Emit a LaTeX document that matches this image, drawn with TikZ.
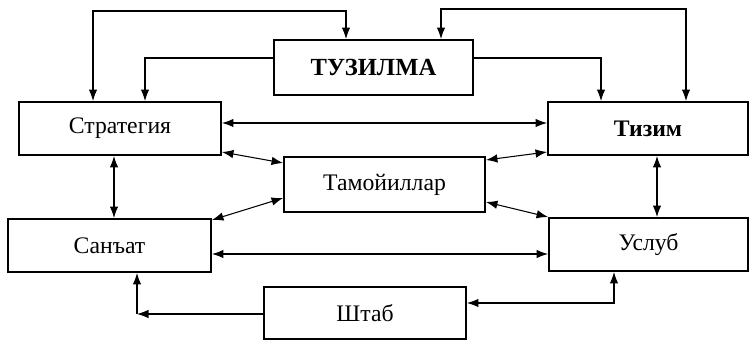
\documentclass[tikz,border=0pt]{standalone}
\usepackage{fontspec}
\setmainfont{Liberation Serif}
\usetikzlibrary{arrows.meta}
\tikzset{
  box/.style={draw, line width=1.1pt, inner sep=0pt, font=\fontsize{13.5}{16}\selectfont},
  bbox/.style={box, font=\fontsize{14}{16}\selectfont\bfseries},
  conn/.style={line width=0.6pt, {Latex[length=2.3mm,width=1.7mm]}-{Latex[length=2.3mm,width=1.7mm]}},
  conn1/.style={line width=0.6pt, -{Latex[length=2.3mm,width=1.7mm]}}
}
\begin{document}
\begin{tikzpicture}[x=0.02cm,y=-0.02cm]
\useasboundingbox (0,0) rectangle (749,340);
\node[bbox, minimum width=3.98cm, minimum height=1.10cm] (t) at (373.5,67.5) {ТУЗИЛМА};
\node[box, minimum width=4.04cm, minimum height=1.06cm] (s) at (120,128.5) {Стратегия};
\node[bbox, font=\fontsize{13.5}{16}\selectfont\bfseries, minimum width=4.00cm, minimum height=1.06cm] (z) at (648,128.5) {Тизим};
\node[box, minimum width=4.02cm, minimum height=1.10cm] (m) at (384.5,184.5) {Тамойиллар};
\node[box, minimum width=4.06cm, minimum height=1.06cm] (c) at (109.5,245.5) {Санъат};
\node[box, minimum width=3.98cm, minimum height=1.06cm] (u) at (648.5,244.5) {Услуб};
\node[box, minimum width=4.04cm, minimum height=1.04cm] (sh) at (365,313) {Штаб};
% top loops
\draw[conn] (s.north -| 93,0) -- (93,11) -- (346,11) -- (t.north -| 346,0);
\draw[conn] (t.north -| 441,0) -- (441,9) -- (686,9) -- (z.north -| 686,0);
\draw[conn1] (t.west |- 0,58) -- (145,58) -- (s.north -| 145,0);
\draw[conn1] (t.east |- 0,58) -- (601,58) -- (z.north -| 601,0);
% horizontal
\draw[conn] (s.east |- 0,123) -- (z.west |- 0,123);
\draw[conn] (c.east |- 0,254) -- (u.west |- 0,254);
% diagonals
\draw[conn] (s.east |- 0,152) -- (m.west |- 0,163);
\draw[conn] (m.east |- 0,160) -- (z.west |- 0,152);
\draw[conn] (m.west |- 0,198) -- (c.east |- 0,220);
\draw[conn] (m.east |- 0,202) -- (u.west |- 0,217);
% verticals
\draw[conn] (s.south -| 114,0) -- (c.north -| 114,0);
\draw[conn] (z.south -| 657,0) -- (u.north -| 657,0);
% Штаб
\coordinate (k) at (137,314);
\draw[conn1] (sh.west |- 0,314) -- (k);
\draw[conn1] (k) -- (c.south -| 137,0);
\draw[conn] (sh.east |- 0,303) -- (614,303) -- (u.south -| 614,0);
\end{tikzpicture}
\end{document}
